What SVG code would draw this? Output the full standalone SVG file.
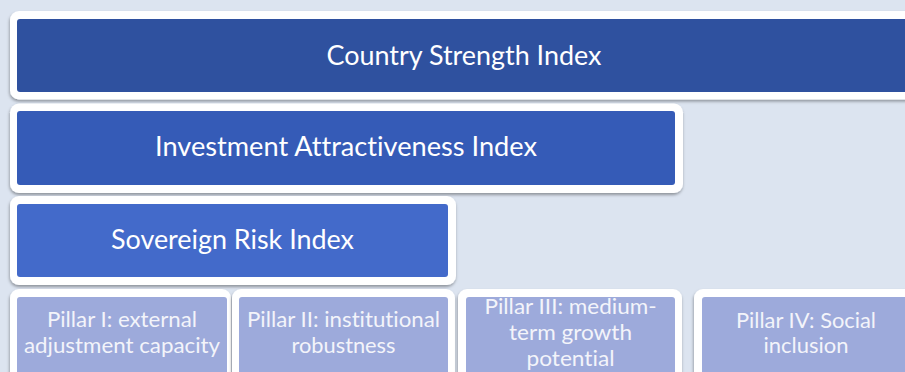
<svg xmlns="http://www.w3.org/2000/svg" width="905" height="372" viewBox="0 0 905 372">
<defs>
<filter id="sh" x="-5%" y="-10%" width="110%" height="130%">
<feDropShadow dx="-0.5" dy="2" stdDeviation="1.6" flood-color="#000" flood-opacity="0.35"/>
</filter>
<style>
.outer{fill:#ffffff;filter:url(#sh)}
.t{font-family:Lato,"Open Sans","Liberation Sans",sans-serif;fill:#ffffff;text-anchor:middle;font-variant-ligatures:none;font-feature-settings:"liga" 0,"clig" 0}
.big{font-size:26px}
.small{font-size:21px;fill:#f3f4fa}
.c1{fill:#2f519f}
.c2{fill:#355bb7}
.c3{fill:#436aca}
.p{fill:#9daadb}
</style>
</defs>
<rect x="0" y="0" width="905" height="372" fill="#dce4f0"/>
<g id="connectors"/>
<g id="country-strength-index">
<rect class="outer" x="10" y="11" width="910" height="88.5" rx="9"/>
<rect class="c1" x="17" y="19" width="896" height="73" rx="3"/>
<text class="t big" x="464" y="65" textLength="275" lengthAdjust="spacingAndGlyphs">Country Strength Index</text>
</g>
<g id="investment-attractiveness-index">
<rect class="outer" x="10" y="103.5" width="673" height="89.5" rx="9"/>
<rect class="c2" x="17" y="111" width="658" height="74" rx="3"/>
<text class="t big" x="346" y="156" textLength="382" lengthAdjust="spacingAndGlyphs">Investment Attractiveness Index</text>
</g>
<g id="sovereign-risk-index">
<rect class="outer" x="10" y="196" width="446" height="89" rx="9"/>
<rect class="c3" x="17" y="204" width="431" height="73" rx="3"/>
<text class="t big" x="232.5" y="249" textLength="243" lengthAdjust="spacingAndGlyphs">Sovereign Risk Index</text>
</g>
<g id="pillar-1">
<rect class="outer" x="10" y="289" width="221" height="95" rx="9"/>
<rect class="p" x="17" y="297" width="210" height="80" rx="3"/>
<text class="t small" x="122" y="327" textLength="150" lengthAdjust="spacingAndGlyphs">Pillar I: external</text>
<text class="t small" x="122" y="353" textLength="196" lengthAdjust="spacingAndGlyphs">adjustment capacity</text>
</g>
<g id="pillar-2">
<rect class="outer" x="232" y="289" width="223" height="95" rx="9"/>
<rect class="p" x="239" y="297" width="209" height="80" rx="3"/>
<text class="t small" x="343.5" y="327" textLength="193" lengthAdjust="spacingAndGlyphs">Pillar II: institutional</text>
<text class="t small" x="343.5" y="353" textLength="104" lengthAdjust="spacingAndGlyphs">robustness</text>
</g>
<g id="pillar-3">
<rect class="outer" x="458" y="289" width="224" height="95" rx="9"/>
<rect class="p" x="466" y="297" width="209" height="80" rx="3"/>
<text class="t small" x="570.5" y="314" textLength="172" lengthAdjust="spacingAndGlyphs">Pillar III: medium-</text>
<text class="t small" x="570.5" y="340" textLength="123" lengthAdjust="spacingAndGlyphs">term growth</text>
<text class="t small" x="570.5" y="366" textLength="88" lengthAdjust="spacingAndGlyphs">potential</text>
</g>
<g id="pillar-4">
<rect class="outer" x="694" y="289" width="226" height="95" rx="9"/>
<rect class="p" x="702" y="297" width="209" height="80" rx="3"/>
<text class="t small" x="806" y="328" textLength="140" lengthAdjust="spacingAndGlyphs">Pillar IV: Social</text>
<text class="t small" x="806" y="353" textLength="85" lengthAdjust="spacingAndGlyphs">inclusion</text>
</g>
</svg>
